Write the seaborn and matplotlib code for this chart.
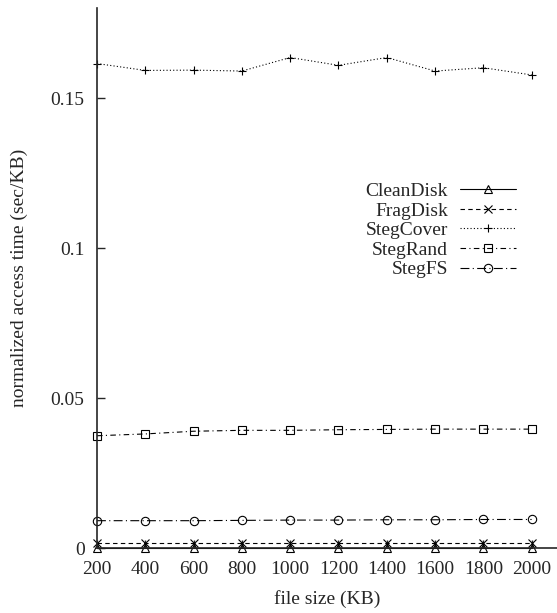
import numpy as np
import pandas as pd
import matplotlib
matplotlib.use("Agg")
import matplotlib.pyplot as plt
import seaborn as sns

# file sizes (KB)
sizes = [200, 400, 600, 800, 1000, 1200, 1400, 1600, 1800, 2000]

# normalized access time (sec/KB)
clean_disk = [0.0002, 0.0002, 0.0002, 0.0002, 0.0002, 0.0002, 0.0002, 0.0002, 0.0002, 0.0002]
frag_disk = [0.0017, 0.0017, 0.0017, 0.0017, 0.0017, 0.0017, 0.0017, 0.0017, 0.0017, 0.0017]
steg_cover = [0.1615, 0.1592, 0.1593, 0.1590, 0.1635, 0.1609, 0.1635, 0.1590, 0.1601, 0.1577]
steg_rand = [0.0375, 0.0381, 0.0390, 0.0393, 0.0393, 0.0395, 0.0396, 0.0397, 0.0397, 0.0397]
steg_fs = [0.0092, 0.0092, 0.0092, 0.0093, 0.0094, 0.0094, 0.0095, 0.0095, 0.0096, 0.0096]

series = ["CleanDisk", "FragDisk", "StegCover", "StegRand", "StegFS"]
values = [clean_disk, frag_disk, steg_cover, steg_rand, steg_fs]

sns.set_style("ticks")
plt.rcParams["font.family"] = ["Liberation Serif", "DejaVu Serif"]

fig = plt.figure(figsize=(5.57, 6.13), dpi=100)
ax = fig.add_axes([97 / 557, 1 - 548.3 / 613, 1 - 97 / 557, (548.3 - 8) / 613])

dashes = {"CleanDisk": (None, None), "FragDisk": (4, 3), "StegCover": (1, 2),
          "StegRand": (5, 3, 1, 3), "StegFS": (8, 3, 1, 3)}
markers = {"CleanDisk": "^", "FragDisk": "x", "StegCover": "+",
           "StegRand": "s", "StegFS": "o"}

handles = []
for name, vals in zip(series, values):
    d = pd.DataFrame({"size": sizes, "time": vals})
    sns.lineplot(data=d, x="size", y="time", color="black",
                 marker=markers[name], lw=0.8, ms=6, mew=0.8,
                 mec="black", mfc="none", clip_on=False, ax=ax)
    line = ax.get_lines()[-1]
    if name != "CleanDisk":
        line.set_dashes(dashes[name])
    handles.append(line)

ax.set_xlim(200, 2105)
ax.set_ylim(0, 0.18)
ax.set_xticks(sizes)
ax.set_yticks([0, 0.05, 0.1, 0.15])
ax.set_yticklabels(["0", "0.05", "0.1", "0.15"])

sns.despine(ax=ax)
for sp in ["left", "bottom"]:
    ax.spines[sp].set_linewidth(1.2)
ax.tick_params(direction="in", length=6, width=1, labelsize=14, pad=9)

ax.set_xlabel("file size (KB)", fontsize=14, labelpad=9)
ax.set_ylabel("normalized access time (sec/KB)", fontsize=14, labelpad=16)

leg = ax.legend(handles=handles, labels=series,
                loc="upper right", bbox_to_anchor=(0.911, 0.677),
                markerfirst=False, frameon=False, fontsize=14,
                handlelength=2.9, handletextpad=0.6, labelspacing=0.1,
                borderpad=0, borderaxespad=0)

fig.savefig("out.png", dpi=100)
